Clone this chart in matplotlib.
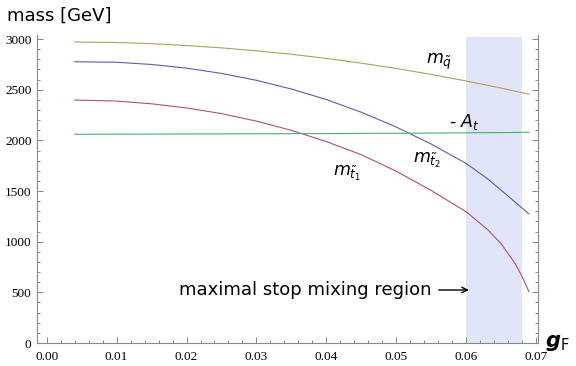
import matplotlib
matplotlib.use('Agg')
import matplotlib.pyplot as plt
from matplotlib.ticker import MultipleLocator, FormatStrFormatter

# coupling values and masses
g_f = [0.004, 0.010, 0.015, 0.020, 0.025, 0.030, 0.035, 0.040,
       0.045, 0.050, 0.055, 0.060, 0.063, 0.065, 0.067, 0.068, 0.069]
m_squark = [2971, 2966, 2954, 2936, 2913, 2884, 2850, 2809,
            2762, 2710, 2651, 2586, 2545, 2516, 2486, 2471, 2455]
m_stop2 = [2776, 2771, 2749, 2713, 2661, 2593, 2507, 2403,
           2278, 2132, 1964, 1773, 1625, 1510, 1392, 1333, 1275]
m_stop1 = [2398, 2388, 2361, 2320, 2264, 2190, 2099, 1988,
           1859, 1696, 1506, 1296, 1125, 981, 787, 660, 505]
minus_at = [2060, 2061, 2062, 2063, 2064, 2065, 2066, 2067,
            2069, 2070, 2072, 2074, 2076, 2077, 2078, 2079, 2080]
mixing_region = (0.060, 0.068)

fig = plt.figure(figsize=(5.76, 3.66), dpi=100)
ax = fig.add_axes([37 / 576, 23 / 366, 501 / 576, 308 / 366])

ax.axvspan(mixing_region[0], mixing_region[1], ymax=3020 / 3040,
           color='#e0e6f8', lw=0, zorder=0)

ax.plot(g_f, m_squark, color='#b0a058', lw=0.8)
ax.plot(g_f, m_stop2, color='#5c5cb0', lw=0.8)
ax.plot(g_f, m_stop1, color='#b04c84', lw=0.8)
ax.plot(g_f, minus_at, color='#4cb06a', lw=0.8)

ax.set_xlim(-0.0014, 0.0703)
ax.set_ylim(0, 3040)

for s in ['left', 'bottom', 'right']:
    ax.spines[s].set_color('#888888')
    ax.spines[s].set_linewidth(0.8)
ax.spines['top'].set_visible(False)

ax.xaxis.set_major_locator(MultipleLocator(0.01))
ax.xaxis.set_minor_locator(MultipleLocator(0.002))
ax.yaxis.set_major_locator(MultipleLocator(500))
ax.yaxis.set_minor_locator(MultipleLocator(100))
ax.xaxis.set_major_formatter(FormatStrFormatter('%.2f'))
ax.tick_params(which='both', direction='in', color='#888888', width=0.7,
               right=True, top=False)
ax.tick_params(which='major', length=4.5)
ax.tick_params(which='minor', length=2.5)
ax.tick_params(axis='x', pad=6)
ax.tick_params(axis='y', pad=4)
for lab in ax.get_xticklabels() + ax.get_yticklabels():
    lab.set_fontfamily('Liberation Serif')
    lab.set_fontsize(9.5)

ax.text(0.0562, 2773, r'$m_{\tilde{q}}$', fontsize=12.5, ha='center', va='center')
ax.text(0.0597, 2180, r'- $A_t$', fontsize=12.5, ha='center', va='center')
ax.text(0.0545, 1800, r'$m_{\tilde{t}_2}$', fontsize=12.5, ha='center', va='center')
ax.text(0.0430, 1672, r'$m_{\tilde{t}_1}$', fontsize=12.5, ha='center', va='center')

ax.text(0.0551, 523, 'maximal stop mixing region', fontsize=13,
        ha='right', va='center')
ax.annotate('', xy=(0.0608, 523), xytext=(0.0557, 523),
            arrowprops=dict(arrowstyle='->', lw=1.0, color='black'))

fig.text(7 / 576, 1 - 16 / 366, 'mass [GeV]', fontsize=13,
         ha='left', va='center')
fig.text(545 / 576, 1 - 343 / 366, r'$\boldsymbol{g}_{\mathrm{F}}$', fontsize=15,
         ha='left', va='center')

fig.savefig('out.png', dpi=100)
